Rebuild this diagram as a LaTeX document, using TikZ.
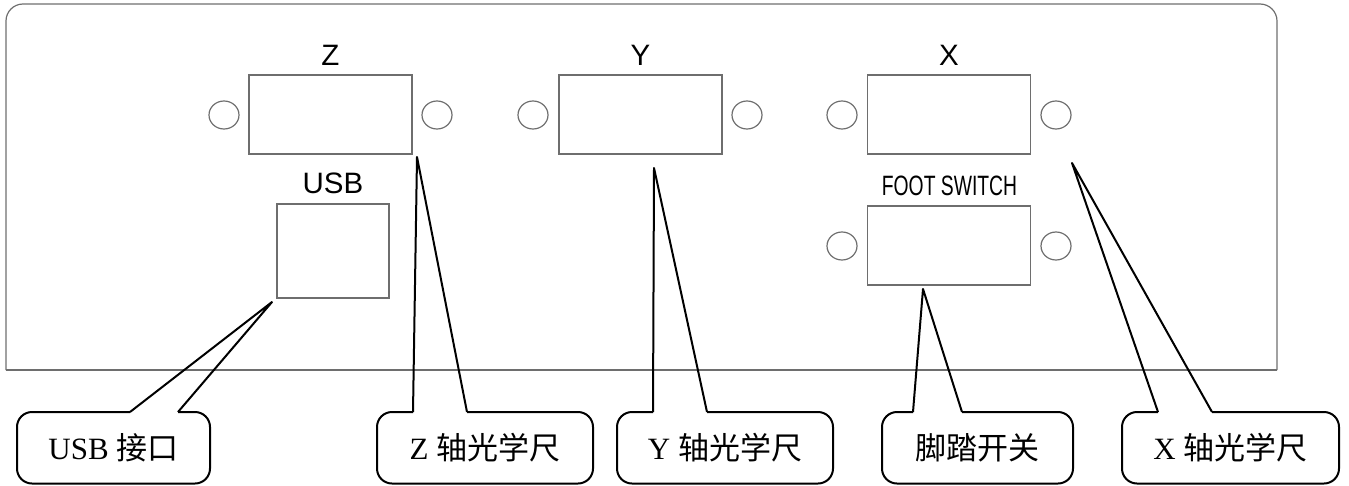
\documentclass[tikz,border=0pt]{standalone}
\usepackage{fontspec}
\setmainfont{Liberation Serif}
\setsansfont{Liberation Sans}
\newfontfamily\cjk{Noto Sans CJK SC}
\definecolor{panelgray}{RGB}{110,110,110}
\tikzset{
  panelline/.style={draw=panelgray, line width=1.2pt},
  port/.style={panelline, rectangle, inner sep=0pt, minimum width=163pt, minimum height=79pt},
  usbport/.style={panelline, rectangle, inner sep=0pt, minimum width=112pt, minimum height=94pt},
  hole/.style={panelline, ellipse, inner sep=0pt, minimum width=30pt, minimum height=28pt},
  plabel/.style={font=\sffamily\fontsize{29.5}{33}\selectfont, inner sep=0pt},
  flabel/.style={font=\sffamily\fontsize{28}{32}\selectfont, inner sep=0pt},
  calltext/.style={font=\rmfamily\fontsize{31}{36}\selectfont, inner sep=0pt},
  callout/.style={draw=black, line width=2pt, line join=round},
}
\usetikzlibrary{shapes.geometric}
\begin{document}
\begin{tikzpicture}[x=1pt,y=-1pt]
\useasboundingbox (0,0) rectangle (1349,485);
% panel
\draw[panelline] (6,370) [rounded corners=17pt] -- (6,4) -- (1277,4) -- (1277,370);
\draw[panelline] (6,370) -- (1277,370);
% Z
\node[port] (zbox) at (330.5,114.5) {};
\node[hole] (zl) at (224,115) {};
\node[hole] (zr) at (437,115) {};
\node[plabel] (zlab) at (330.5,55) {Z};
% Y
\node[port] (ybox) at (640.5,114.5) {};
\node[hole] (yl) at (533,115) {};
\node[hole] (yr) at (747,115) {};
\node[plabel] (ylab) at (640.5,55) {Y};
% X
\node[port] (xbox) at (949,114.5) {};
\node[hole] (xl) at (842,115) {};
\node[hole] (xr) at (1056,115) {};
\node[plabel] (xlab) at (949,55) {X};
% foot switch
\node[port] (fbox) at (949,245.5) {};
\node[hole] (fl) at (842,246) {};
\node[hole] (fr) at (1056,246) {};
\node[flabel] (flab) at (949.5,186) {\scalebox{0.69}[1]{FOOT SWITCH}};
% USB
\node[usbport] (ubox) at (333,251) {};
\node[plabel] (ulab) at (333,183) {USB};

% callout texts
\node[calltext] (cu) at (113.5,448) {USB {\cjk 接口}};
\node[calltext] (cz) at (485,448) {Z {\cjk 轴光学尺}};
\node[calltext] (cy) at (725,448) {Y {\cjk 轴光学尺}};
\node[calltext] (cf) at (977.5,448) {{\cjk 脚踏开关}};
\node[calltext] (cx) at (1230.5,448) {X {\cjk 轴光学尺}};

% tips and bases
\coordinate (ut) at (272,302);
\coordinate (ub1) at (130,412);
\coordinate (ub2) at (178,412);
\coordinate (zt) at (417,157);
\coordinate (zb1) at (413,412);
\coordinate (zb2) at (467,412);
\coordinate (yt) at (654,168);
\coordinate (yb1) at (653,412);
\coordinate (yb2) at (707,412);
\coordinate (ft) at (923,289);
\coordinate (fb1) at (913,412);
\coordinate (fb2) at (962,412);
\coordinate (xt) at (1072,163);
\coordinate (xb1) at (1158,412);
\coordinate (xb2) at (1212,412);

% callout outlines
\draw[callout, rounded corners=15pt] (ub2) -- (210,412) -- (210,483.5) -- (17,483.5) -- (17,412) -- (ub1);
\draw[callout] (ub1) -- (ut) -- (ub2);
\draw[callout, rounded corners=15pt] (zb2) -- (593,412) -- (593,483.5) -- (377,483.5) -- (377,412) -- (zb1);
\draw[callout] (zb1) -- (zt) -- (zb2);
\draw[callout, rounded corners=15pt] (yb2) -- (833,412) -- (833,483.5) -- (617,483.5) -- (617,412) -- (yb1);
\draw[callout] (yb1) -- (yt) -- (yb2);
\draw[callout, rounded corners=15pt] (fb2) -- (1073,412) -- (1073,483.5) -- (882,483.5) -- (882,412) -- (fb1);
\draw[callout] (fb1) -- (ft) -- (fb2);
\draw[callout, rounded corners=15pt] (xb2) -- (1339,412) -- (1339,483.5) -- (1122,483.5) -- (1122,412) -- (xb1);
\draw[callout] (xb1) -- (xt) -- (xb2);
\end{tikzpicture}
\end{document}
